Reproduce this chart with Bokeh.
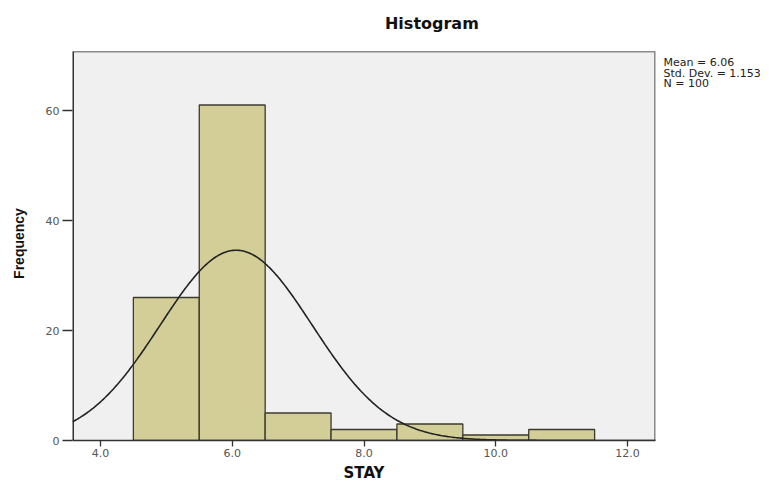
import numpy as np
from bokeh.plotting import figure
from bokeh.layouts import row
from bokeh.models import Range1d, FixedTicker, PrintfTickFormatter
from bokeh.core.properties import value
from bokeh.embed import file_html
from bokeh.resources import INLINE

# ---- data ----
bin_left = [4.5, 5.5, 6.5, 7.5, 8.5, 9.5, 10.5]
bin_right = [5.5, 6.5, 7.5, 8.5, 9.5, 10.5, 11.5]
counts = [26, 61, 5, 2, 3, 1, 2]
x_ticks = [4, 6, 8, 10, 12]
y_ticks = [0, 20, 40, 60]
stat_mean = 6.06
stat_sd = 1.153
stat_n = 100
bin_width = 1.0
stats_text = ["Mean = 6.06", "Std. Dev. = 1.153", "N = 100"]
title_text = "Histogram"
y_title = "Frequency"
x_title = "STAY"

FONT = "Liberation Sans"
WFONT = "DejaVu Sans"       # wider face for horizontal texts
X0, X1 = 3.576, 12.424      # visible x extent of the plot box
Y1 = 70.7                   # top of the plot box
YTOP = 80.0                 # canvas top (room for the title)

p = figure(width=630, height=484, output_backend="svg", toolbar_location=None,
           x_range=Range1d(X0, X1), y_range=Range1d(0, YTOP),
           min_border_left=42, min_border_right=5, min_border_top=0, min_border_bottom=44)
p.background_fill_color = "white"
p.border_fill_color = "white"
p.outline_line_color = None
p.xgrid.visible = False
p.ygrid.visible = False

# plot box
p.quad(left=[X0], right=[X1], bottom=[0], top=[Y1], fill_color="#f0f0f0", line_color=None)
p.segment(x0=[X0], y0=[Y1], x1=[X1], y1=[Y1], line_color="#8a8a8a", line_width=1.5)
p.segment(x0=[X1], y0=[0], x1=[X1], y1=[Y1], line_color="#8a8a8a", line_width=3)
p.segment(x0=[X0], y0=[0], x1=[X0], y1=[Y1], line_color="#333333", line_width=3)

p.quad(left=bin_left, right=bin_right, top=counts, bottom=0,
       fill_color="#d3ce98", line_color="#3b3a2c", line_width=1.3)

# fitted normal curve from reported stats
xs = np.linspace(X0, X1, 400)
ys = stat_n * bin_width * np.exp(-0.5 * ((xs - stat_mean) / stat_sd) ** 2) / (stat_sd * np.sqrt(2 * np.pi))
p.line(xs, ys, line_color="#222222", line_width=1.6)

for ax in (p.xaxis[0], p.yaxis[0]):
    ax.axis_line_color = "#333333"
    ax.axis_line_width = 1.5
    ax.major_tick_line_color = "#333333"
    ax.major_tick_line_width = 1.3
    ax.minor_tick_line_color = None
    ax.major_tick_in = 0
    ax.major_label_text_font = WFONT
    ax.major_label_text_font_size = "11px"
    ax.major_label_text_color = "#555555"

p.yaxis.axis_line_color = None

p.xaxis.ticker = FixedTicker(ticks=x_ticks)
p.xaxis.formatter = PrintfTickFormatter(format="%.1f")
p.xaxis.major_tick_out = 6
p.xaxis.major_label_standoff = 2
p.xaxis.axis_label = x_title
p.xaxis.axis_label_text_font = WFONT
p.xaxis.axis_label_text_font_size = "15px"
p.xaxis.axis_label_text_font_style = "bold"
p.xaxis.axis_label_text_color = "#111111"
p.xaxis.axis_label_standoff = 4

p.yaxis.ticker = FixedTicker(ticks=y_ticks)
p.yaxis.major_tick_out = 10
p.yaxis.major_label_standoff = 3

# title, centred over the whole chart
p.text(x=[X0 + 360 / 66.0], y=[75.8], text=[title_text],
       text_font=value(WFONT), text_font_size="16px", text_font_style="bold",
       text_color="#111111", text_align="center", text_baseline="middle")

# y-axis title strip on the left (pixel-like scale)
lf = figure(width=30, height=484, output_backend="svg", toolbar_location=None,
            x_range=Range1d(0, 30), y_range=Range1d(0, 440),
            min_border_left=0, min_border_right=0, min_border_top=0, min_border_bottom=44)
lf.axis.visible = False
lf.grid.visible = False
lf.outline_line_color = None
lf.background_fill_color = "white"
lf.border_fill_color = "white"
lf.text(x=[18], y=[440 - 243], text=[y_title], angle=np.pi / 2,
        text_font=value(FONT), text_font_size="14px", text_font_style="bold",
        text_color="#111111", text_align="center", text_baseline="middle")

# statistics text panel to the right of the chart (pixel-like scale)
s = figure(width=122, height=484, output_backend="svg", toolbar_location=None,
           x_range=Range1d(0, 122), y_range=Range1d(440, 0),
           min_border_left=0, min_border_right=0, min_border_top=0, min_border_bottom=44)
s.axis.visible = False
s.grid.visible = False
s.outline_line_color = None
s.background_fill_color = "white"
s.border_fill_color = "white"
stat_y = [62, 72.5, 83]
s.text(x=[3] * len(stats_text), y=stat_y, text=stats_text,
       text_font=value(WFONT), text_font_size="11px", text_color="#222222",
       text_align="left", text_baseline="middle")

layout = row(lf, p, s, spacing=0)
open("out.html", "w").write(file_html(layout, INLINE))
